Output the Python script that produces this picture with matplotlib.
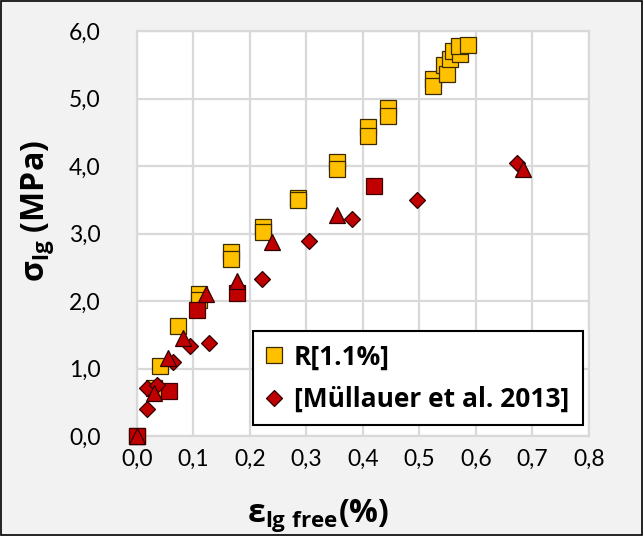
import matplotlib
matplotlib.use("Agg")
import matplotlib.pyplot as plt
from matplotlib.ticker import FuncFormatter

# ==========================================
# Data
# ==========================================
# R[1.1%] (yellow squares)
r11_strain = [0.000, 0.030, 0.040, 0.073, 0.110, 0.110, 0.166, 0.166, 0.223, 0.223,
              0.285, 0.285, 0.354, 0.354, 0.409, 0.409, 0.444, 0.444,
              0.524, 0.524, 0.544, 0.548, 0.554, 0.560, 0.572, 0.570, 0.586]
r11_stress = [0.00, 0.71, 1.04, 1.63, 2.10, 2.02, 2.72, 2.62, 3.10, 3.02,
              3.53, 3.49, 4.06, 3.95, 4.58, 4.44, 4.86, 4.74,
              5.29, 5.19, 5.50, 5.36, 5.59, 5.70, 5.66, 5.78, 5.79]

# Muellauer et al. 2013 - squares (not in legend)
mu_sq_strain = [0.000, 0.057, 0.106, 0.177, 0.420]
mu_sq_stress = [0.00, 0.67, 1.86, 2.12, 3.71]

# Muellauer et al. 2013 - diamonds (legend entry)
mu_di_strain = [0.017, 0.017, 0.035, 0.064, 0.094, 0.128, 0.221, 0.305, 0.380, 0.496, 0.672]
mu_di_stress = [0.40, 0.71, 0.76, 1.10, 1.34, 1.38, 2.33, 2.89, 3.22, 3.50, 4.05]

# Muellauer et al. 2013 - triangles (not in legend)
mu_tr_strain = [0.000, 0.030, 0.055, 0.082, 0.122, 0.177, 0.239, 0.354, 0.683]
mu_tr_stress = [0.00, 0.64, 1.15, 1.45, 2.10, 2.29, 2.87, 3.27, 3.95]

x_ticks = [0.0, 0.1, 0.2, 0.3, 0.4, 0.5, 0.6, 0.7, 0.8]
y_ticks = [0, 1, 2, 3, 4, 5, 6]

yellow = "#FFC000"
red = "#C00000"

plt.rcParams["font.family"] = ["Lato", "DejaVu Sans"]
plt.rcParams["mathtext.fontset"] = "custom"
plt.rcParams["mathtext.rm"] = "Open Sans:bold"
plt.rcParams["mathtext.bf"] = "Open Sans:bold"
plt.rcParams["xtick.major.pad"] = 9
plt.rcParams["ytick.major.pad"] = 26
plt.rcParams["xtick.major.size"] = 0
plt.rcParams["ytick.major.size"] = 0

fig = plt.figure(figsize=(6.43, 5.36), dpi=100, facecolor="#f2f2f2")
ax = fig.add_axes([0.213, 0.1866, 0.703, 0.7554])
ax.set_facecolor("white")

# yellow first, red on top
ax.plot(r11_strain, r11_stress, "s", ms=11.8, mfc=yellow, mec="#3a2a00", mew=0.9,
        ls="none", label="R[1.1%]", zorder=3, clip_on=False)
ax.plot(mu_sq_strain, mu_sq_stress, "s", ms=11.8, mfc=red, mec="#400000", mew=0.9,
        ls="none", zorder=4, clip_on=False)
ax.plot(mu_di_strain, mu_di_stress, "D", ms=7.8, mfc=red, mec="#300000", mew=0.9,
        ls="none", label="[Müllauer et al. 2013]", zorder=5, clip_on=False)
ax.plot(mu_tr_strain, mu_tr_stress, "^", ms=11.5, mfc=red, mec="#300000", mew=0.9,
        ls="none", zorder=6, clip_on=False)

ax.set_xlim(0, 0.8)
ax.set_ylim(0, 6)
ax.set_xticks(x_ticks)
ax.set_yticks(y_ticks)
ax.xaxis.set_major_formatter(FuncFormatter(lambda v, p: f"{v:.1f}".replace(".", ",")))
ax.yaxis.set_major_formatter(FuncFormatter(lambda v, p: f"{v:.1f}".replace(".", ",")))
ax.tick_params(labelsize=16.5, colors="black")
ax.grid(True, color="#d9d9d9", lw=1.6)
ax.set_axisbelow(True)
for s in ax.spines.values():
    s.set_color("#d9d9d9")
    s.set_linewidth(1.6)

ax.set_ylabel(r"$\mathbf{σ_{lg}}$ (MPa)", fontsize=23, family="Open Sans", fontweight="bold")
ax.yaxis.set_label_coords(-0.18, 0.556)
ax.set_xlabel(r"$\mathbf{ε_{lg\ free}}$(%)", fontsize=23, family="Open Sans", fontweight="bold")
ax.xaxis.set_label_coords(0.40, -0.152)

leg = ax.legend(loc="lower left", bbox_to_anchor=(0.257, 0.027, 0.73, 0.25), mode="expand",
                prop={"family": "Open Sans", "weight": "bold", "size": 19},
                frameon=True, fancybox=False, framealpha=1,
                edgecolor="black", handletextpad=0.4, borderpad=0.45, labelspacing=0.6,
                handlelength=0.7, borderaxespad=0)
leg.get_frame().set_linewidth(1.5)
leg.set_zorder(10)

# outer border of the chart area
fig.patches.append(plt.Rectangle((0.002, 0.002), 0.996, 0.996, transform=fig.transFigure,
                                 fill=False, edgecolor="black", lw=1.2))

fig.savefig("out.png", dpi=100, facecolor=fig.get_facecolor())
